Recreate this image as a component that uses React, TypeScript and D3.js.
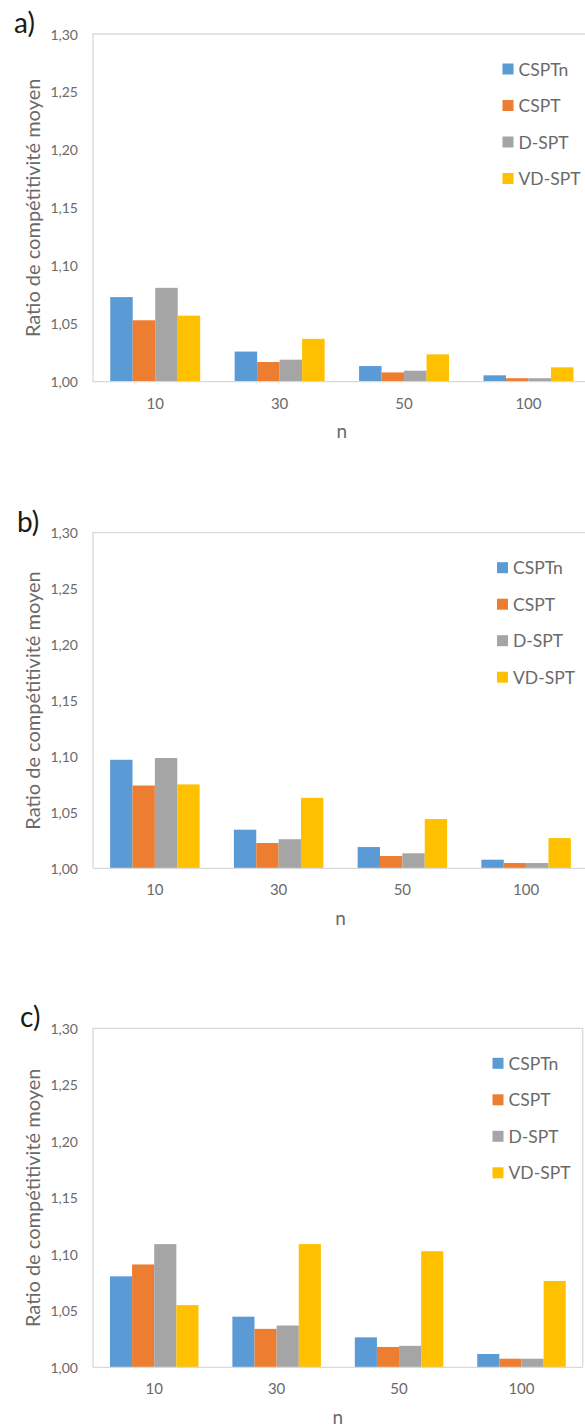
import * as d3 from "d3";

const categories = ["10", "30", "50", "100"];
const seriesNames = ["CSPTn", "CSPT", "D-SPT", "VD-SPT"];
const seriesColors = ["#5B9BD5", "#ED7D31", "#A5A5A5", "#FFC000"];
const yTicks = [1.0, 1.05, 1.1, 1.15, 1.2, 1.25, 1.3];

// panel a)
const aCSPTn = [1.073, 1.026, 1.0135, 1.0055];
const aCSPT = [1.053, 1.017, 1.008, 1.003];
const aDSPT = [1.081, 1.019, 1.0095, 1.003];
const aVDSPT = [1.057, 1.037, 1.0236, 1.0124];

// panel b)
const bCSPTn = [1.097, 1.0345, 1.019, 1.0077];
const bCSPT = [1.074, 1.0226, 1.011, 1.0047];
const bDSPT = [1.0986, 1.026, 1.0134, 1.0047];
const bVDSPT = [1.075, 1.063, 1.044, 1.027];

// panel c)
const cCSPTn = [1.0805, 1.0448, 1.0265, 1.0118];
const cCSPT = [1.091, 1.034, 1.018, 1.0076];
const cDSPT = [1.109, 1.037, 1.019, 1.0076];
const cVDSPT = [1.055, 1.109, 1.1027, 1.0764];

const panels = [
  { label: "a)", series: [aCSPTn, aCSPT, aDSPT, aVDSPT], top: 34, bottom: 381.7, right: 590.7, legendX: 502.5, labelX: 14 },
  { label: "b)", series: [bCSPTn, bCSPT, bDSPT, bVDSPT], top: 532.7, bottom: 868.3, right: 588, legendX: 497, labelX: 17 },
  { label: "c)", series: [cCSPTn, cCSPT, cDSPT, cVDSPT], top: 1028.3, bottom: 1367.3, right: 582.7, legendX: 492.5, labelX: 20 },
];

const W = 585;
const H = 1427;
const LEFT = 93;
const FONT = "Lato, 'Open Sans', sans-serif";
const TEXT = "#6a6a6a";
const GRID = "#d9d9d9";

const fr = d3.formatLocale({ decimal: ",", thousands: " ", grouping: [3], currency: ["", "€"] }).format(".2f");

function Panel({ p }: { p: (typeof panels)[number] }) {
  const x = d3
    .scaleBand<string>()
    .domain(categories)
    .range([LEFT, p.right])
    .paddingInner(0.277)
    .paddingOuter(0.1385);
  const xs = d3.scaleBand<string>().domain(seriesNames).range([0, x.bandwidth()]);
  const y = d3.scaleLinear().domain([1, 1.3]).range([p.bottom, p.top]);
  const midX = (LEFT + p.right) / 2;
  const midY = (p.top + p.bottom) / 2;

  return (
    <g>
      <text x={p.labelX} y={p.top - 1} fontFamily={FONT} fontSize={28} fill="#1a1a1a">
        {p.label}
      </text>

      {/* frame */}
      <path
        d={`M${LEFT},${p.bottom}V${p.top}H${p.right}V${p.bottom}`}
        fill="none"
        stroke={GRID}
        strokeWidth={1.3}
      />

      {yTicks.map((t) => (
        <text
          key={t}
          x={LEFT - 15}
          y={y(t)}
          textAnchor="end"
          dominantBaseline="central"
          fontFamily={FONT}
          fontSize={14}
          fill={TEXT}
        >
          {fr(t)}
        </text>
      ))}

      {p.series.map((vals, si) =>
        vals.map((v, ci) => (
          <rect
            key={`${si}-${ci}`}
            x={x(categories[ci])! + xs(seriesNames[si])!}
            y={y(v)}
            width={xs.bandwidth()}
            height={y(1) - y(v)}
            fill={seriesColors[si]}
          />
        )),
      )}

      <line x1={LEFT} x2={p.right} y1={p.bottom} y2={p.bottom} stroke={GRID} strokeWidth={1.3} />

      {categories.map((c) => (
        <text
          key={c}
          x={x(c)! + x.bandwidth() / 2}
          y={p.bottom + 21}
          textAnchor="middle"
          dominantBaseline="central"
          fontFamily={FONT}
          fontSize={15}
          fill={TEXT}
        >
          {c}
        </text>
      ))}

      <text
        x={midX}
        y={p.bottom + 49}
        textAnchor="middle"
        dominantBaseline="central"
        fontFamily={FONT}
        fontSize={19}
        fill={TEXT}
      >
        n
      </text>

      <text
        transform={`translate(32,${midY}) rotate(-90)`}
        textAnchor="middle"
        dominantBaseline="central"
        fontFamily={FONT}
        fontSize={20}
        fill={TEXT}
      >
        Ratio de compétitivité moyen
      </text>

      {seriesNames.map((s, i) => {
        const cy = p.top + 35 + i * 36.5;
        return (
          <g key={s}>
            <rect x={p.legendX} y={cy - 5.5} width={11} height={11} fill={seriesColors[i]} />
            <text
              x={p.legendX + 16}
              y={cy}
              dominantBaseline="central"
              fontFamily={FONT}
              fontSize={17.5}
              fill={TEXT}
            >
              {s}
            </text>
          </g>
        );
      })}
    </g>
  );
}

export default function App() {
  return (
    <svg
      width={W}
      height={H}
      style={{ position: "absolute", left: 0, top: 0, background: "#fff" }}
    >
      {panels.map((p) => (
        <Panel key={p.label} p={p} />
      ))}
    </svg>
  );
}
